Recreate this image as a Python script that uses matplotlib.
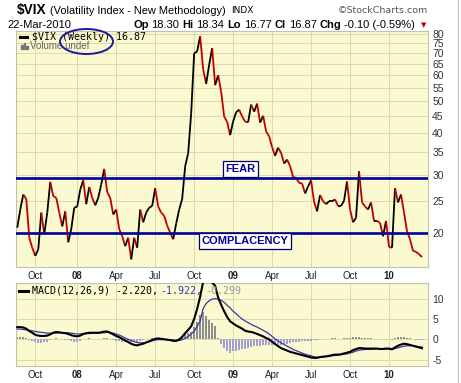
import numpy as np
import pandas as pd
import matplotlib
matplotlib.use('Agg')
import matplotlib.pyplot as plt
import matplotlib.dates as mdates
from matplotlib.collections import LineCollection
from matplotlib.patches import Ellipse, Rectangle
from matplotlib.lines import Line2D
from matplotlib.ticker import NullLocator

W, H = 461, 383

# Weekly $VIX closes, week of 20-Aug-2007 through 22-Mar-2010
week_start = '2007-08-20'
vix_close = [
    20.7, 23.5, 26.1, 25.3, 19.3, 18.0, 17.0, 17.8, 23.0, 19.8,
    23.0, 28.5, 25.8, 25.5, 23.0, 20.9, 23.2, 18.7, 20.5, 23.8,
    24.0, 27.0, 28.8, 24.4, 27.5, 25.5, 24.2, 25.5, 28.0, 31.2,
    26.5, 25.5, 22.7, 23.5, 20.5, 19.5, 18.2, 19.3, 16.6, 19.3,
    18.0, 23.5, 21.5, 23.0, 23.8, 24.1, 27.3, 24.0, 23.0, 22.5,
    21.0, 20.0, 19.1, 21.3, 23.5, 25.3, 31.8, 34.8, 46.0, 70.0,
    70.8, 78.8, 62.5, 56.5, 64.5, 72.5, 56.0, 60.0, 53.5, 45.0,
    43.3, 39.5, 43.5, 46.3, 47.2, 45.0, 43.4, 43.2, 48.9, 46.5,
    49.2, 43.1, 45.2, 40.5, 39.2, 36.3, 34.2, 36.2, 34.9, 32.4,
    33.3, 31.8, 29.5, 29.3, 28.3, 28.2, 26.3, 27.6, 28.8, 24.8,
    23.2, 26.0, 24.9, 24.4, 24.9, 24.9, 25.2, 24.1, 24.1, 25.0,
    28.6, 23.5, 21.5, 22.2, 30.7, 24.7, 24.0, 23.5, 24.7, 21.7,
    21.7, 21.4, 19.5, 21.7, 18.1, 18.0, 27.3, 24.7, 26.1, 23.0,
    20.2, 19.1, 17.6, 17.5, 17.2, 16.87,
]

# MACD(12,26,9)
macd_line = [
    3.0, 3.0, 2.9, 2.6, 2.0, 1.6, 1.1, 0.9, 0.8, 0.8,
    0.9, 1.2, 1.6, 1.8, 1.7, 1.6, 1.5, 1.3, 1.0, 0.8,
    0.7, 0.9, 1.3, 1.5, 1.6, 1.6, 1.6, 1.6, 1.7, 1.9,
    1.9, 1.6, 1.2, 0.8, 0.5, 0.1, -0.3, -0.7, -1.1, -1.4,
    -1.5, -1.3, -1.1, -0.8, -0.5, -0.2, 0.1, 0.2, 0.1, 0.0,
    -0.1, -0.2, -0.4, -0.4, -0.1, 0.6, 1.5, 2.3, 3.2, 5.0,
    7.5, 10.5, 14.2, 14.5, 14.2, 14.0, 13.2, 10.3, 8.5, 6.9,
    5.5, 4.4, 3.9, 3.4, 3.0, 2.6, 2.1, 1.9, 1.8, 1.6,
    1.3, 1.0, 0.7, 0.3, 0.0, -0.6, -1.2, -1.7, -2.2, -2.5,
    -2.8, -3.1, -3.3, -3.5, -3.7, -3.9, -4.1, -4.3, -4.5, -4.6,
    -4.6, -4.4, -4.3, -4.2, -4.1, -3.9, -3.8, -3.8, -3.7, -3.5,
    -3.3, -3.1, -2.7, -2.4, -2.2, -2.2, -2.3, -2.3, -2.3, -2.3,
    -2.3, -2.4, -2.4, -2.3, -2.3, -2.5, -2.0, -1.6, -1.3, -1.1,
    -1.2, -1.4, -1.6, -1.8, -2.0, -2.22,
]
macd_signal = [
    2.5, 2.5, 2.4, 2.3, 2.2, 2.1, 1.9, 1.8, 1.7, 1.6,
    1.5, 1.5, 1.5, 1.5, 1.6, 1.6, 1.6, 1.6, 1.5, 1.4,
    1.3, 1.3, 1.3, 1.4, 1.4, 1.5, 1.5, 1.5, 1.6, 1.6,
    1.7, 1.6, 1.5, 1.3, 1.0, 0.7, 0.3, 0.0, -0.3, -0.6,
    -0.8, -0.9, -0.9, -0.8, -0.6, -0.4, -0.2, -0.1, -0.1, -0.1,
    -0.1, -0.2, -0.2, -0.3, -0.3, -0.1, 0.2, 0.7, 1.3, 2.0,
    3.2, 4.5, 7.6, 8.8, 9.5, 9.9, 10.0, 9.9, 9.6, 9.1,
    8.4, 7.7, 6.9, 6.3, 5.6, 5.0, 4.5, 4.1, 3.7, 3.3,
    3.0, 2.6, 2.2, 1.8, 1.3, 0.7, 0.1, -0.4, -0.9, -1.3,
    -1.7, -2.1, -2.5, -2.8, -3.1, -3.4, -3.7, -3.9, -4.1, -4.3,
    -4.4, -4.4, -4.4, -4.3, -4.2, -4.1, -4.0, -3.9, -3.8, -3.7,
    -3.6, -3.4, -3.2, -2.9, -2.7, -2.6, -2.5, -2.5, -2.5, -2.4,
    -2.4, -2.4, -2.4, -2.4, -2.4, -2.4, -2.3, -2.1, -1.9, -1.7,
    -1.6, -1.6, -1.6, -1.7, -1.8, -1.922,
]

fear_level = 29.3
complacency_level = 20.0
price_ticks = [20, 25, 30, 35, 40, 45, 50, 55, 60, 65, 70, 75, 80]
macd_ticks = [-5, 0, 5, 10]
quote_parts = [
    ('Op', True), ('18.30', False), ('Hi', True), ('18.34', False),
    ('Lo', True), ('16.77', False), ('Cl', True), ('16.87', False),
    ('Chg', True), ('-0.10 (-0.59%)', False),
]

BG = '#fbf9cf'
GRID = '#dcd9b0'
EDGE = '#c4c2a8'
NAVY = '#000099'
DOWN_RED = '#c00000'
SANS = ['Liberation Sans', 'DejaVu Sans']
MONO = 'DejaVu Sans Mono'


def fx(x):
    return x / W


def fy(y):
    return 1 - y / H


def panel(fig, top, bottom, left=16, right=428):
    ax = fig.add_axes([fx(left), fy(bottom), (right - left) / W, (bottom - top) / H])
    ax.set_facecolor(BG)
    for s in ax.spines.values():
        s.set_color(EDGE)
        s.set_linewidth(0.8)
    return ax


def quarter_marks(dates, xs):
    pos, lab = [], []
    prev = None
    for d, xv in zip(dates, xs):
        if d.month in (1, 4, 7, 10) and d.month != prev:
            pos.append(xv)
            lab.append(d.strftime('%y') if d.month == 1 else d.strftime('%b'))
        prev = d.month
    return pos, lab


def style_xaxis(ax, qpos, qlab, xlim):
    ax.set_xlim(*xlim)
    ax.set_xticks(qpos)
    ax.set_xticklabels(qlab, family=SANS, fontsize=7, color='#222')
    for t in ax.get_xticklabels():
        if t.get_text().isdigit():
            t.set_fontweight('bold')
    ax.tick_params(axis='x', length=0, pad=3)


dates = pd.date_range(week_start, periods=len(vix_close), freq='W-MON')
xs = mdates.date2num(dates)
xlim = (xs[0] - 3, xs[-1] + 14)
qpos, qlab = quarter_marks(dates, xs)

fig = plt.figure(figsize=(W / 100, H / 100), dpi=100)
fig.patch.set_facecolor('white')

# ---- price panel ----
ax = panel(fig, 31, 267.3)
ax.set_yscale('log')
ax.set_ylim(15.7, 81.7)
vals = np.array(vix_close)
pts = np.column_stack([xs, vals])
segs = np.stack([pts[:-1], pts[1:]], axis=1)
cols = ['black' if b >= a else DOWN_RED for a, b in zip(vals[:-1], vals[1:])]
ax.add_collection(LineCollection(segs, colors=cols, linewidths=1.3, zorder=3))
ax.axhline(fear_level, color=NAVY, lw=1.9, zorder=4)
ax.axhline(complacency_level, color=NAVY, lw=1.9, zorder=4)
ax.yaxis.tick_right()
ax.set_yticks(price_ticks)
ax.set_yticklabels([str(t) for t in price_ticks], family=SANS, fontsize=7.5, color='#333')
ax.yaxis.set_minor_locator(NullLocator())
ax.tick_params(axis='y', which='both', length=0, pad=3)
style_xaxis(ax, qpos, qlab, xlim)
ax.grid(True, color=GRID, lw=0.7, zorder=0)
ax.set_axisbelow(True)

# ---- MACD panel ----
ax2 = panel(fig, 283.3, 366)
ax2.set_ylim(-6.6, 13.8)
hist = np.array(macd_line) - np.array(macd_signal)
ax2.bar(xs, hist, width=4.5, color=['#8e8e8e' if h >= 0 else '#a0a0d4' for h in hist],
        zorder=2)
ax2.plot(xs, macd_signal, color='#3636b0', lw=0.9, zorder=3)
ax2.plot(xs, macd_line, color='black', lw=1.5, zorder=4)
ax2.yaxis.tick_right()
ax2.set_yticks(macd_ticks)
ax2.set_yticklabels([str(t) for t in macd_ticks], family=SANS, fontsize=7.5, color='#333')
ax2.tick_params(axis='y', length=0, pad=3)
style_xaxis(ax2, qpos, qlab, xlim)
ax2.grid(True, color=GRID, lw=0.7, zorder=0)
ax2.set_axisbelow(True)

# ---- header ----
fig.text(fx(17), fy(10), '$VIX', family=SANS, fontsize=9.8, fontweight='bold', va='center')
fig.text(fx(50), fy(10.5), '(Volatility Index - New Methodology)', family=SANS,
         fontsize=7.9, va='center')
fig.text(fx(231), fy(10.5), 'INDX', family='DejaVu Sans', fontsize=6.5, va='center')
fig.text(fx(428), fy(10.5), '\u00a9StockCharts.com', family='DejaVu Sans', fontsize=6.8,
         color='#555', va='center', ha='right')

fig.text(fx(7), fy(25), '22-Mar-2010', family=SANS, fontsize=8, va='center')
renderer = fig.canvas.get_renderer()
cur = 133
for txt, bold in quote_parts:
    t = fig.text(fx(cur), fy(25), txt, family=SANS, fontsize=8,
                 fontweight='bold' if bold else 'normal', va='center')
    cur += t.get_window_extent(renderer).width + 3
fig.text(fx(cur + 5), fy(25), '\u25bc', family='DejaVu Sans', fontsize=5, color='#c00000',
         va='center', ha='center')

# ---- legends inside panels ----
fig.add_artist(Line2D([fx(20), fx(27)], [fy(36.7), fy(36.7)], color='black', lw=2.2,
                      transform=fig.transFigure))
fig.text(fx(32), fy(36.7), '$VIX (Weekly) 16.87', family=MONO, fontsize=7.2, va='center')
for bx, bh in [(21, 4), (23.5, 6), (26, 3)]:
    fig.add_artist(Rectangle((fx(bx), fy(49)), 1.6 / W, bh / H, color='#777',
                             transform=fig.transFigure))
fig.text(fx(30), fy(46), 'Volume undef', family=SANS, fontsize=7, color='#666', va='center')
fig.add_artist(Ellipse((fx(86.5), fy(41.5)), 53 / W, 25 / H, fill=False, ec='#1a1aa0',
                       lw=1.4, transform=fig.transFigure, zorder=10))

fig.add_artist(Line2D([fx(19), fx(28)], [fy(290.7), fy(290.7)], color='black', lw=2.2,
                      transform=fig.transFigure))
fig.text(fx(32), fy(290.7), 'MACD(12,26,9) -2.220,', family=MONO, fontsize=7.2, va='center')
fig.text(fx(160), fy(290.7), '-1.922,', family=MONO, fontsize=7.2, color='#3636b0',
         va='center')
fig.text(fx(205), fy(290.7), '-0.299', family=MONO, fontsize=7.2, color='#999',
         va='center')

# ---- FEAR / COMPLACENCY tags ----
box = dict(boxstyle='square,pad=0.25', fc='white', ec='#000066', lw=0.9)
fig.text(fx(240.5), fy(169), 'FEAR', family=SANS, fontsize=8, fontweight='bold',
         color=NAVY, ha='center', va='center', bbox=box, zorder=12)
fig.text(fx(245), fy(241), 'COMPLACENCY', family=SANS, fontsize=8, fontweight='bold',
         color=NAVY, ha='center', va='center', bbox=box, zorder=12)

# light frame on the right edge
fig.add_artist(Line2D([fx(458), fx(458)], [0, 1], color='#c8c8c8', lw=1,
                      transform=fig.transFigure))

fig.savefig('out.png', dpi=100, facecolor='white')
